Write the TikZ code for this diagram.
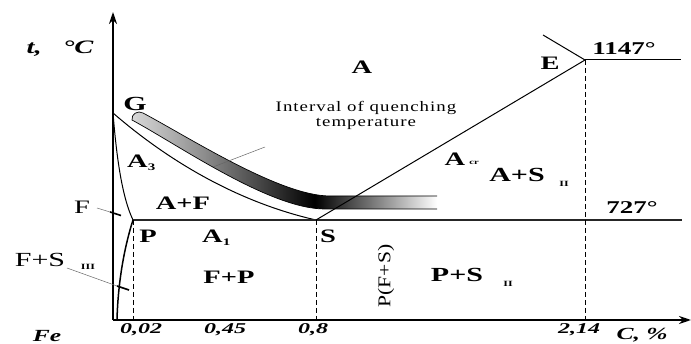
\documentclass[tikz,border=0pt]{standalone}
\usepackage{fontspec}
\setmainfont{Liberation Serif}[FakeStretch=1.5]
\newfontfamily\qfont{Liberation Serif}[FakeStretch=1.3,LetterSpace=7]
\newfontfamily\axfont{Liberation Serif}[FakeStretch=1.6]
\newfontfamily\pfont{Liberation Serif}[FakeStretch=1.2]
\usetikzlibrary{arrows.meta}
\pgfdeclarehorizontalshading{quench}{100bp}{color(0bp)=(black!15); color(25bp)=(black!15); color(37bp)=(black!45); color(55bp)=(black); color(75bp)=(white); color(100bp)=(white)}
\newcommand{\mysub}[1]{\raisebox{-3pt}{\fontsize{10}{10}\selectfont\bfseries #1}}
\tikzset{
  lbl/.style={inner sep=0pt, font=\fontsize{19}{19}\selectfont\bfseries},
  rlbl/.style={inner sep=0pt, font=\fontsize{19}{19}\selectfont},
  sublbl/.style={inner sep=0pt, font=\fontsize{8}{8}\selectfont\bfseries},
  axl/.style={inner sep=0pt, font=\axfont\fontsize{15}{15}\selectfont\bfseries\itshape},
  qlbl/.style={inner sep=0pt, align=center, font=\qfont\fontsize{14.5}{15}\selectfont},
  axis/.style={line width=1.8pt, -{Stealth[length=12pt,width=8pt]}},
  phase/.style={line width=1pt},
  dashline/.style={line width=0.8pt, dash pattern=on 5pt off 3pt},
  leader/.style={line width=0.5pt, black!60},
  leadend/.style={line width=1.6pt},
}
\begin{document}
\begin{tikzpicture}[x=1pt,y=-1pt]
\useasboundingbox (0,0) rectangle (691,344);
% key points
\coordinate (O) at (113,320);
\coordinate (Ytip) at (113,12);
\coordinate (Xtip) at (691,320);
\coordinate (G) at (113,113);
\coordinate (P) at (133,220);
\coordinate (S) at (316,220);
\coordinate (E) at (585,60);
\coordinate (Q) at (117,320);
\coordinate (K) at (682,220);
\coordinate (Eul) at (543,35);
\coordinate (Er) at (681,60);
\coordinate (Pb) at (133,320);
\coordinate (Sb) at (316,320);
\coordinate (Eb) at (585,320);
% quenching band
\coordinate (BU0) at (143,113);
\coordinate (BU1) at (330,196);
\coordinate (BU2) at (437,196);
\coordinate (BL2) at (437,209);
\coordinate (BL1) at (325,209);
\coordinate (BL0) at (132,120);
\shade[shading=quench] (BU0) .. controls (190,138) and (280,196) .. (BU1) -- (BU2) -- (BL2) -- (BL1) .. controls (270,209) and (180,146) .. (BL0) .. controls (131,114) and (138,110) .. (BU0) -- cycle;
\draw[line width=0.7pt] (BU2) -- (BU1) .. controls (280,196) and (190,138) .. (BU0) .. controls (138,110) and (131,114) .. (BL0) .. controls (180,146) and (270,209) .. (BL1) -- (BL2);
% axes
\draw[axis] (O) -- (Ytip);
\draw[axis] (O) -- (Xtip);
% phase lines
\draw[phase] (G) .. controls (158,152) and (228,200) .. (S);
\draw[phase] (G) .. controls (116,150) and (121,195) .. (P);
\draw[line width=1.5pt] (P) .. controls (125,245) and (118,280) .. (Q);
\draw[line width=1.2pt, black!85] (P) -- (K);
\draw[phase] (S) -- (E);
\draw[phase] (E) -- (Eul);
\draw[phase] (E) -- (Er);
\draw[dashline] (P) -- (Pb);
\draw[dashline] (S) -- (Sb);
\draw[dashline] (E) -- (Eb);
% leaders
\coordinate (LF0) at (97,208);
\coordinate (LF1) at (110,212);
\coordinate (LF2) at (121,215.5);
\draw[leader] (LF0) -- (LF1);
\draw[leadend] (LF1) -- (LF2);
\coordinate (LS0) at (67,268);
\coordinate (LS1) at (117,286);
\coordinate (LS2) at (129,290);
\draw[leader] (LS0) -- (LS1);
\draw[leadend] (LS1) -- (LS2);
\coordinate (LQ0) at (213,167);
\coordinate (LQ1) at (265,147);
\draw[leader] (LQ0) -- (LQ1);
% labels
\node[lbl] (tC) at (60,49) {\itshape t,\ \ \ °C};
\node[lbl, font=\fontsize{20}{20}\selectfont\bfseries] (Gl) at (135,104) {G};
\node[lbl] (Al) at (362,67) {A};
\node[lbl] (El) at (550,63) {E};
\node[lbl, font=\fontsize{18}{18}\selectfont\bfseries] (T1147) at (624,49) {1147°};
\node[qlbl] (Iq) at (366,115) {Interval of quenching\\temperature};
\node[lbl, anchor=west] (A3) at (127,163) {A\mysub{3}};
\node[lbl] (AF) at (183,203) {A+F};
\node[rlbl] (Fl) at (82,207) {F};
\node[lbl] (Pl) at (148,236) {P};
\node[lbl, anchor=west] (A1) at (202,238) {A\mysub{1}};
\node[lbl] (Sl) at (328,236) {S};
\node[rlbl, font=\fontsize{20}{20}\selectfont] (FS) at (40,260) {F+S};
\node[sublbl] (FSiii) at (88,267) {III};
\node[lbl] (FP) at (229,277) {F+P};
\node[inner sep=0pt, font=\pfont\fontsize{18}{18}\selectfont, rotate=90] (PFS) at (386,276) {P(F+S)};
\node[lbl, font=\fontsize{20}{20}\selectfont\bfseries] (PS) at (457,275) {P+S};
\node[sublbl] (PSii) at (508,284) {II};
\node[lbl] (Acr) at (455,159) {A};
\node[sublbl, font=\fontsize{7}{7}\selectfont\bfseries] (Acrs) at (474,163) {cr};
\node[lbl, font=\fontsize{20}{20}\selectfont\bfseries] (AS) at (517,175) {A+S};
\node[sublbl] (ASii) at (564,184) {II};
\node[lbl, font=\fontsize{18}{18}\selectfont\bfseries] (T727) at (632,208) {727°};
\node[axl] (t002) at (141,330) {0,02};
\node[axl] (t045) at (225,330) {0,45};
\node[axl] (t08) at (313,330) {0,8};
\node[axl] (t214) at (579,330) {2,14};
\node[axl, font=\fontsize{17}{17}\selectfont\bfseries\itshape] (Fe) at (47,336) {Fe};
\node[axl, font=\fontsize{17}{17}\selectfont\bfseries\itshape] (CP) at (642,335) {C, \%};
\end{tikzpicture}
\end{document}
